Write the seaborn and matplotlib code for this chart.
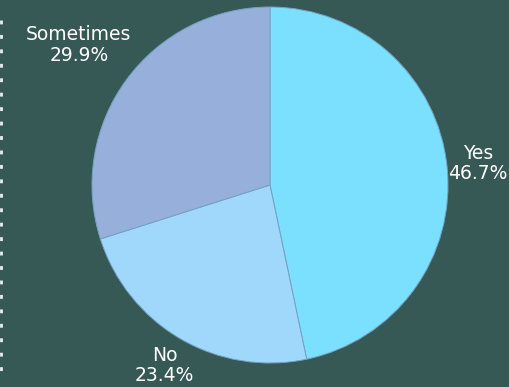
import numpy as np
import matplotlib
matplotlib.use("Agg")
import matplotlib.pyplot as plt
import seaborn as sns
from matplotlib.lines import Line2D

sns.set_theme(style="white")
plt.rcParams['font.family'] = ['DejaVu Sans']

categories = ["Yes", "No", "Sometimes"]
values = [46.7, 23.4, 29.9]
colors = ["#7BDFFE", "#9FD8FB", "#97AFDB"]
label_dist = [1.175, 1.175, 1.33]

bg = "#365955"
fig = plt.figure(figsize=(5.10, 3.87), dpi=100, facecolor=bg)
ax = fig.add_axes([0, 0, 1, 1])
ax.set_facecolor(bg)

wedges, _ = ax.pie(values, colors=colors, startangle=90, counterclock=False,
                   radius=1.0,
                   wedgeprops=dict(edgecolor="#74A2C4", linewidth=0.7))

for w, cat, v, d in zip(wedges, categories, values, label_dist):
    mid = np.deg2rad((w.theta1 + w.theta2) / 2)
    x, y = d * np.cos(mid), d * np.sin(mid)
    ax.text(x, y, f"{cat}\n{v:.1f}%", ha="center", va="center",
            color="white", fontsize=13.5, linespacing=1.1)

R = 178.0
ax.set_xlim(-270 / R, 240 / R)
ax.set_ylim((185 - 387) / R, 185 / R)
ax.set_aspect("auto")
ax.axis("off")

fig.add_artist(Line2D([1.2 / 510, 1.2 / 510], [1 - 20 / 387, 1 - 380 / 387],
                      transform=fig.transFigure, color="#E8EEF2",
                      linewidth=2.0, linestyle=(0, (1.4, 3.8)),
                      solid_capstyle="butt", dash_capstyle="butt"))

fig.savefig("out.png", dpi=100, facecolor=bg)
